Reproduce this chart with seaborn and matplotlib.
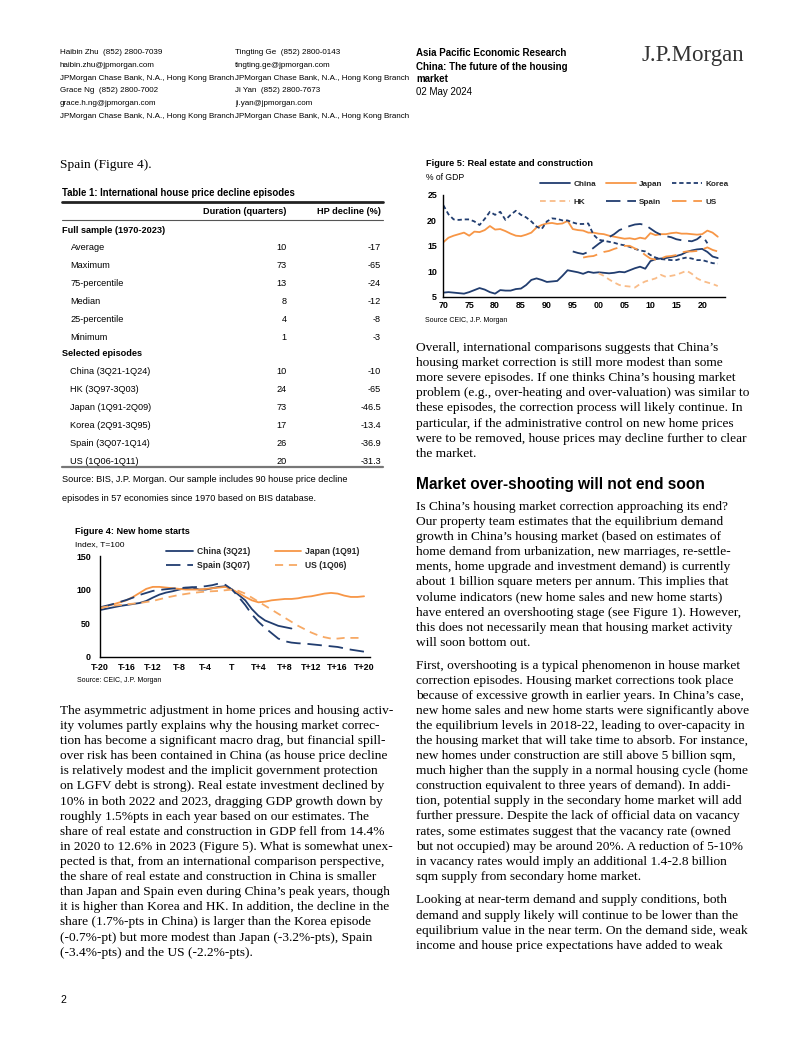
import numpy as np
import pandas as pd
import seaborn as sns
import matplotlib.pyplot as plt
from matplotlib.lines import Line2D

sns.set_style('white')
SANS = ['Liberation Sans', 'DejaVu Sans']
SERIF = ['Liberation Serif', 'DejaVu Serif']
plt.rcParams['font.family'] = SANS

W, H = 802, 1037
NAVY = '#213D6F'
ORANGE = '#F79646'
LIGHT_ORANGE = '#F9BC88'

# ---------------- data ----------------
# Figure 5: real estate and construction, % of GDP (annual)
years = list(range(1970, 2024))
china_re = [5.8, 5.9, 5.8, 5.7, 5.6, 5.9, 6.3, 6.7, 6.4, 5.9,
            5.6, 6.3, 6.2, 6.2, 6.5, 6.6, 7.3, 8.3, 8.6, 8.3,
            7.9, 8.0, 8.1, 9.1, 10.2, 10.0, 9.8, 9.5, 9.9, 9.7,
            9.8, 9.7, 9.6, 9.7, 9.9, 9.8, 10.2, 10.6, 10.9, 10.5,
            12.0, 12.4, 12.5, 12.6, 12.8, 13.0, 13.3, 13.8, 14.1, 14.3,
            14.4, 13.8, 12.9, 12.6]
japan_re = [15.7, 16.6, 17.0, 17.3, 17.6, 17.0, 17.8, 17.7, 18.1, 18.9,
            18.2, 18.3, 17.9, 17.4, 17.0, 16.9, 17.2, 17.6, 18.6, 19.1,
            19.4, 19.5, 19.3, 19.4, 19.9, 18.3, 18.1, 18.0, 17.6, 17.6,
            17.4, 17.3, 17.0, 16.8, 16.6, 16.4, 16.5, 16.3, 16.6, 16.4,
            17.5, 17.1, 17.3, 17.3, 17.5, 17.6, 17.4, 17.4, 17.3, 17.2,
            17.3, 18.0, 17.6, 16.8]
korea_re = [23.0, 21.2, 20.2, 20.1, 20.2, 20.2, 19.8, 19.1, 20.3, 21.7,
            21.1, 21.7, 20.1, 21.1, 21.9, 21.1, 20.6, 19.8, 18.8, 18.3,
            19.8, 20.4, 20.3, 20.0, 20.0, 19.6, 19.3, 19.3, 19.4, 17.2,
            16.2, 16.0, 15.8, 15.6, 15.3, 15.1, 14.8, 14.4, 14.1, 13.9,
            13.2, 12.7, 12.4, 12.3, 12.2, 12.2, 12.5, 12.7, 12.5, 12.2,
            12.2, 11.9, 11.6, 11.5]
hk_years = list(range(2000, 2024))
hk_re = [9.6, 9.1, 8.4, 7.8, 7.3, 7.1, 7.0, 6.8, 7.5, 8.0,
         8.3, 8.6, 9.3, 8.9, 9.1, 9.3, 9.7, 10.1, 9.5, 8.6,
         8.1, 7.8, 7.5, 7.1]
spain_years = list(range(1995, 2022))
spain_re = [13.9, 13.6, 13.4, 13.8, 14.6, 15.4, 16.1, 16.7, 17.3, 18.1,
            18.5, 18.9, 19.2, 19.3, 19.1, 18.4, 17.7, 17.2, 16.9, 16.7,
            16.3, 16.1, 16.0, 15.9, 16.3, 17.1, 15.5]
us_years = list(range(1997, 2024))
us_re = [12.7, 12.9, 13.0, 13.4, 13.8, 14.0, 14.4, 14.7, 15.0, 15.0,
         14.5, 14.0, 13.2, 12.5, 12.3, 12.5, 12.9, 13.0, 13.2, 13.7,
         13.9, 13.9, 14.0, 14.3, 14.7, 14.2, 13.9]

# Figure 4: new home starts, index T=100 (quarters around the peak)
quarters = list(range(-20, 21))
china_q = list(range(-20, 10))
china_starts = [69.5, 71.5, 73.5, 75.5, 77, 78.5, 80, 83, 88, 92.5,
                95.5, 97.5, 100, 102, 103, 100, 100, 102, 104, 105,
                100, 92, 84, 71, 61, 54, 50, 46, 44, 42]
japan_starts = [72, 75, 78, 81, 84, 89, 95, 101, 104, 104,
                103, 102, 101, 100, 100, 100, 101, 102, 103, 104,
                100, 95, 89, 84, 81, 82, 84, 85, 86, 86,
                87, 89, 90, 92, 94, 95, 94, 91, 89, 89, 90]
spain_starts = [73.5, 76, 78.5, 81.5, 84.5, 88, 92, 95, 98, 99.5,
                100.5, 101.5, 102, 103, 103.5, 104, 105, 106.5, 109, 107,
                100, 89, 77, 63, 52, 43, 35, 27, 23, 21,
                20, 19.5, 18.5, 17.5, 16.5, 15.5, 14.5, 12.5, 10.5, 9, 7.5]
us_starts = [73, 74.5, 76, 77, 78, 79, 80, 81.5, 83, 85.5,
             88, 90, 92, 93.5, 95, 96, 97, 97.5, 98, 99,
             100, 98, 94, 88, 82, 76, 70, 64, 58, 52,
             46, 41, 36, 32, 29, 27, 27, 28, 28, 28, 28]
quarter_ticks = list(range(-20, 21, 4))
quarter_labels = ['T-20', 'T-16', 'T-12', 'T-8', 'T-4', 'T',
                  'T+4', 'T+8', 'T+12', 'T+16', 'T+20']

# Table 1
tbl_full_rows = ['Average', 'Maximum', '75-percentile', 'Median', '25-percentile', 'Minimum']
tbl_full_dur = ['10', '73', '13', '8', '4', '1']
tbl_full_hp = ['-17', '-65', '-24', '-12', '-8', '-3']
tbl_sel_rows = ['China (3Q21-1Q24)', 'HK (3Q97-3Q03)', 'Japan (1Q91-2Q09)',
                'Korea (2Q91-3Q95)', 'Spain (3Q07-1Q14)', 'US (1Q06-1Q11)']
tbl_sel_dur = ['10', '24', '73', '17', '26', '20']
tbl_sel_hp = ['-10', '-65', '-46.5', '-13.4', '-36.9', '-31.3']

# ---------------- page ----------------
fig = plt.figure(figsize=(W / 100, H / 100), dpi=100)
fig.patch.set_facecolor('white')


def put(x, y, s, size, weight='normal', family=SANS, ha='left', color='black'):
    fig.text(x / W, 1 - y / H, s, fontsize=size, fontweight=weight,
             family=family, ha=ha, va='center', color=color)


def rule(x0, x1, y, lw, color):
    fig.add_artist(Line2D([x0 / W, x1 / W], [1 - y / H, 1 - y / H],
                          transform=fig.transFigure, lw=lw, color=color))


def add_axes(left, top, right, bottom):
    return fig.add_axes([left / W, 1 - bottom / H, (right - left) / W, (bottom - top) / H])


# header
col1 = ['Haibin Zhu  (852) 2800-7039', 'haibin.zhu@jpmorgan.com',
        'JPMorgan Chase Bank, N.A., Hong Kong Branch', 'Grace Ng  (852) 2800-7002',
        'grace.h.ng@jpmorgan.com', 'JPMorgan Chase Bank, N.A., Hong Kong Branch']
col2 = ['Tingting Ge  (852) 2800-0143', 'tingting.ge@jpmorgan.com',
        'JPMorgan Chase Bank, N.A., Hong Kong Branch', 'Ji Yan  (852) 2800-7673',
        'ji.yan@jpmorgan.com', 'JPMorgan Chase Bank, N.A., Hong Kong Branch']
for i, (a, b) in enumerate(zip(col1, col2)):
    yy = 53 + i * 12.6
    put(60, yy, a, 5.75)
    put(235, yy, b, 5.75)
put(416, 53, 'Asia Pacific Economic Research', 7.0, 'bold')
put(416, 67, 'China: The future of the housing', 7.0, 'bold')
put(416, 79.5, 'market', 7.0, 'bold')
put(416, 92, '02 May 2024', 7.0)
put(641, 56, 'J.P.Morgan', 16.5, family=SERIF, color='#333333')

# left column intro line
put(60, 165, 'Spain (Figure 4).', 9.6, family=SERIF)

# Table 1
put(62, 193, 'Table 1: International house price decline episodes', 6.9, 'bold')
rule(62, 383, 201.5, 2.0, '#222222')
put(286.7, 212, 'Duration (quarters)', 6.6, 'bold', ha='right')
put(381, 212, 'HP decline (%)', 6.6, 'bold', ha='right')
rule(62, 383, 219.5, 0.8, '#555555')
put(62, 230.5, 'Full sample (1970-2023)', 6.6, 'bold')
row_y = 247.8
for name, d, h in zip(tbl_full_rows, tbl_full_dur, tbl_full_hp):
    put(70.5, row_y, name, 6.6)
    put(286.7, row_y, d, 6.6, ha='right')
    put(381, row_y, h, 6.6, ha='right')
    row_y += 17.85
put(62, 354, 'Selected episodes', 6.6, 'bold')
row_y = 372
for name, d, h in zip(tbl_sel_rows, tbl_sel_dur, tbl_sel_hp):
    put(70.5, row_y, name, 6.6)
    put(286.7, row_y, d, 6.6, ha='right')
    put(381, row_y, h, 6.6, ha='right')
    row_y += 18
rule(62, 383, 467, 1.6, '#777777')
put(62, 480, 'Source: BIS, J.P. Morgan. Our sample includes 90 house price decline', 6.6)
put(62, 498, 'episodes in 57 economies since 1970 based on BIS database.', 6.6)

# ---------------- Figure 4 ----------------
put(75, 531, 'Figure 4: New home starts', 6.6, 'bold')
put(75, 545, 'Index, T=100', 6.0)
ax4 = add_axes(100, 556, 370, 656.7)
starts = pd.DataFrame({'q': quarters, 'Japan (1Q91)': japan_starts,
                       'Spain (3Q07)': spain_starts, 'US (1Q06)': us_starts})
sns.lineplot(x=china_q, y=china_starts, ax=ax4, color=NAVY, lw=1.3, label='China (3Q21)')
sns.lineplot(data=starts, x='q', y='Japan (1Q91)', ax=ax4, color=ORANGE, lw=1.3, label='Japan (1Q91)')
sns.lineplot(data=starts, x='q', y='Spain (3Q07)', ax=ax4, color=NAVY, lw=1.3,
             linestyle=(0, (8, 3.8)), label='Spain (3Q07)')
sns.lineplot(data=starts, x='q', y='US (1Q06)', ax=ax4, color='#F7A965', lw=1.3,
             linestyle=(0, (4.5, 3.2)), label='US (1Q06)')
ax4.set_xlim(-20, 20.9)
ax4.set_ylim(0, 150)
ax4.set_xticks(quarter_ticks)
ax4.set_xticklabels(quarter_labels)
ax4.set_yticks([0, 50, 100, 150])
ax4.set_xlabel('')
ax4.set_ylabel('')
for s in ['top', 'right']:
    ax4.spines[s].set_visible(False)
for s in ['left', 'bottom']:
    ax4.spines[s].set_color('black')
    ax4.spines[s].set_linewidth(1.0)
ax4.tick_params(axis='both', direction='out', length=3, width=0.8, labelsize=6.4, colors='black')
ax4.tick_params(axis='x', pad=1.5)
ax4.tick_params(axis='y', pad=3.5)
for t in ax4.get_xticklabels() + ax4.get_yticklabels():
    t.set_fontweight('bold')
hd, lb = ax4.get_legend_handles_labels()
lut = dict(zip(lb, hd))
order4 = ['China (3Q21)', 'Spain (3Q07)', 'Japan (1Q91)', 'US (1Q06)']
fig.legend([lut[k] for k in order4], order4, loc='upper left',
           bbox_to_anchor=(166 / W, 1 - 547 / H), ncol=2, frameon=False,
           prop={'size': 6.2, 'weight': 'bold'}, handlelength=3.1, handletextpad=0.45,
           columnspacing=2.9, labelspacing=0.6, borderpad=0, borderaxespad=0)
ax4.get_legend().remove()
put(77, 681, 'Source: CEIC, J.P. Morgan', 5.0)

# ---------------- Figure 5 ----------------
put(426, 164, 'Figure 5: Real estate and construction', 6.6, 'bold')
put(426, 177, '% of GDP', 6.2)
ax5 = add_axes(443.3, 195, 725, 296.7)
re_share = pd.DataFrame({'year': years, 'China': china_re, 'Japan': japan_re, 'Korea': korea_re})
sns.lineplot(data=re_share, x='year', y='China', ax=ax5, color=NAVY, lw=1.3, label='China')
sns.lineplot(data=re_share, x='year', y='Japan', ax=ax5, color=ORANGE, lw=1.3, label='Japan')
sns.lineplot(data=re_share, x='year', y='Korea', ax=ax5, color=NAVY, lw=1.3,
             linestyle=(0, (2.4, 1.6)), label='Korea')
sns.lineplot(x=hk_years, y=hk_re, ax=ax5, color=LIGHT_ORANGE, lw=1.3,
             linestyle=(0, (3.2, 2.2)), label='HK')
sns.lineplot(x=spain_years, y=spain_re, ax=ax5, color=NAVY, lw=1.3,
             linestyle=(0, (8, 3.8)), label='Spain')
sns.lineplot(x=us_years, y=us_re, ax=ax5, color=ORANGE, lw=1.3,
             linestyle=(0, (8, 3.8)), label='US')
ax5.set_xlim(1970, 2024.4)
ax5.set_ylim(5, 25)
ax5.set_xticks(list(range(1970, 2021, 5)))
ax5.set_xticklabels([f'{y % 100:02d}' for y in range(1970, 2021, 5)])
ax5.set_xticks(years, minor=True)
ax5.set_yticks([5, 10, 15, 20, 25])
ax5.set_xlabel('')
ax5.set_ylabel('')
for s in ['top', 'right']:
    ax5.spines[s].set_visible(False)
for s in ['left', 'bottom']:
    ax5.spines[s].set_color('black')
    ax5.spines[s].set_linewidth(1.0)
ax5.tick_params(axis='both', which='major', direction='inout', length=4, width=0.8,
                labelsize=6.4, colors='black')
ax5.tick_params(axis='x', which='minor', direction='inout', length=2.5, width=0.6, colors='black')
ax5.tick_params(axis='x', pad=1.0)
ax5.tick_params(axis='y', pad=2.5)
for t in ax5.get_xticklabels() + ax5.get_yticklabels():
    t.set_fontweight('bold')
hd, lb = ax5.get_legend_handles_labels()
lut = dict(zip(lb, hd))
order5 = ['China', 'HK', 'Japan', 'Spain', 'Korea', 'US']
fig.legend([lut[k] for k in order5], order5, loc='upper left',
           bbox_to_anchor=(540 / W, 1 - 180.5 / H), ncol=3, frameon=False,
           prop={'size': 5.9, 'weight': 'bold'}, handlelength=3.65, handletextpad=0.45,
           columnspacing=1.15, labelspacing=1.2, borderpad=0, borderaxespad=0)
ax5.get_legend().remove()
put(425, 320, 'Source CEIC, J.P. Morgan', 5.0)

# ---------------- body text ----------------
left_body = [
    'The asymmetric adjustment in home prices and housing activ-',
    'ity volumes partly explains why the housing market correc-',
    'tion has become a significant macro drag, but financial spill-',
    'over risk has been contained in China (as house price decline',
    'is relatively modest and the implicit government protection',
    'on LGFV debt is strong). Real estate investment declined by',
    '10% in both 2022 and 2023, dragging GDP growth down by',
    'roughly 1.5%pts in each year based on our estimates. The',
    'share of real estate and construction in GDP fell from 14.4%',
    'in 2020 to 12.6% in 2023 (Figure 5). What is somewhat unex-',
    'pected is that, from an international comparison perspective,',
    'the share of real estate and construction in China is smaller',
    'than Japan and Spain even during China\u2019s peak years, though',
    'it is higher than Korea and HK. In addition, the decline in the',
    'share (1.7%-pts in China) is larger than the Korea episode',
    '(-0.7%-pt) but more modest than Japan (-3.2%-pts), Spain',
    '(-3.4%-pts) and the US (-2.2%-pts).',
]
para1 = [
    'Overall, international comparisons suggests that China\u2019s',
    'housing market correction is still more modest than some',
    'more severe episodes. If one thinks China\u2019s housing market',
    'problem (e.g., over-heating and over-valuation) was similar to',
    'these episodes, the correction process will likely continue. In',
    'particular, if the administrative control on new home prices',
    'were to be removed, house prices may decline further to clear',
    'the market.',
]
para2 = [
    'Is China\u2019s housing market correction approaching its end?',
    'Our property team estimates that the equilibrium demand',
    'growth in China\u2019s housing market (based on estimates of',
    'home demand from urbanization, new marriages, re-settle-',
    'ments, home upgrade and investment demand) is currently',
    'about 1 billion square meters per annum. This implies that',
    'volume indicators (new home sales and new home starts)',
    'have entered an overshooting stage (see Figure 1). However,',
    'this does not necessarily mean that housing market activity',
    'will soon bottom out.',
]
para3 = [
    'First, overshooting is a typical phenomenon in house market',
    'correction episodes. Housing market corrections took place',
    'because of excessive growth in earlier years. In China\u2019s case,',
    'new home sales and new home starts were significantly above',
    'the equilibrium levels in 2018-22, leading to over-capacity in',
    'the housing market that will take time to absorb. For instance,',
    'new homes under construction are still above 5 billion sqm,',
    'much higher than the supply in a normal housing cycle (home',
    'construction equivalent to three years of demand). In addi-',
    'tion, potential supply in the secondary home market will add',
    'further pressure. Despite the lack of official data on vacancy',
    'rates, some estimates suggest that the vacancy rate (owned',
    'but not occupied) may be around 20%. A reduction of 5-10%',
    'in vacancy rates would imply an additional 1.4-2.8 billion',
    'sqm supply from secondary home market.',
]
para4 = [
    'Looking at near-term demand and supply conditions, both',
    'demand and supply likely will continue to be lower than the',
    'equilibrium value in the near term. On the demand side, weak',
    'income and house price expectations have added to weak',
]
LS = 15.1
for i, s in enumerate(left_body):
    put(60, 711 + i * LS, s, 9.6, family=SERIF)
for start, lines in [(348, para1), (507, para2), (665.5, para3), (900.5, para4)]:
    for i, s in enumerate(lines):
        put(416, start + i * LS, s, 9.6, family=SERIF)
put(416, 485, 'Market over-shooting will not end soon', 11.2, 'bold')

put(60, 1000, '2', 7.5)

fig.savefig('out.png', dpi=100, facecolor='white')
